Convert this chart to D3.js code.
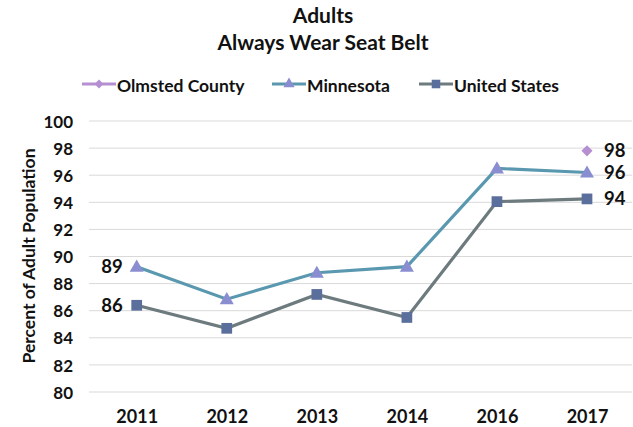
<!DOCTYPE html>
<html><head><meta charset="utf-8">
<script src="https://cdn.jsdelivr.net/npm/d3@7"></script>
<style>body{margin:0;background:#fff}svg{display:block;font-family:Lato,"Open Sans",sans-serif}</style>
</head><body><svg id="c" width="633" height="427"></svg>
<script>
const years = ["2011","2012","2013","2014","2016","2017"];
const olmsted = [null,null,null,null,null,97.8];
const minnesota = [89.25,86.85,88.8,89.25,96.5,96.2];
const unitedStates = [86.4,84.7,87.2,85.5,94.05,94.25];
const yTicks = [80,82,84,86,88,90,92,94,96,98,100];
const labels = [
  {series:"mn", i:0, text:"89", side:"left"},
  {series:"us", i:0, text:"86", side:"left"},
  {series:"ol", i:5, text:"98", side:"right"},
  {series:"mn", i:5, text:"96", side:"right"},
  {series:"us", i:5, text:"94", side:"right"}
];
const svg = d3.select("#c");
const x = d3.scalePoint().domain(years).range([136.7,587]);
const y = d3.scaleLinear().domain([80,100]).range([392,121]);
const colors = {ol:"#b58fd1", mnLine:"#5a98b0", mnMark:"#8a8ed0", usLine:"#6d7b7e", usMark:"#5b6f9c"};
const ink = "#111";

// title
svg.append("text").attr("x",323).attr("y",23).attr("text-anchor","middle").attr("font-weight","bold").attr("font-size",21).attr("fill",ink).text("Adults");
svg.append("text").attr("x",323).attr("y",50).attr("text-anchor","middle").attr("font-weight","bold").attr("font-size",21).attr("fill",ink).text("Always Wear Seat Belt");

// grid
svg.append("g").selectAll("line").data(yTicks).join("line")
  .attr("x1",89).attr("x2",632).attr("y1",d=>y(d)).attr("y2",d=>y(d))
  .attr("stroke","#d9d9d9").attr("stroke-width",1);

// y axis
const yAxis = svg.append("g").attr("transform","translate(73,0)")
  .call(d3.axisLeft(y).tickValues(yTicks).tickSize(0).tickPadding(0));
yAxis.select(".domain").remove();
yAxis.selectAll("text").attr("font-size",17).attr("font-weight","bold").attr("fill",ink).attr("font-family","Lato,sans-serif").attr("dy","0.36em");

// x axis
const xAxis = svg.append("g").attr("transform","translate(0,392)")
  .call(d3.axisBottom(x).tickSize(0).tickPadding(0));
xAxis.select(".domain").remove();
xAxis.selectAll("text").attr("font-size",18).attr("font-weight","bold").attr("fill",ink).attr("font-family","Lato,sans-serif").attr("dy",null).attr("y",31);

// y label
svg.append("text").attr("transform","translate(35,256) rotate(-90)").attr("text-anchor","middle")
  .attr("font-size",17.5).attr("font-weight","bold").attr("fill",ink).text("Percent of Adult Population");

const line = d3.line().defined(d=>d.v!=null).x(d=>x(d.year)).y(d=>y(d.v));
const mk = arr => years.map((yr,i)=>({year:yr,v:arr[i]}));
const dMN = mk(minnesota), dUS = mk(unitedStates), dOL = mk(olmsted);

svg.append("path").datum(dUS).attr("d",line).attr("fill","none").attr("stroke",colors.usLine).attr("stroke-width",3.2);
svg.append("path").datum(dMN).attr("d",line).attr("fill","none").attr("stroke",colors.mnLine).attr("stroke-width",3.2);

const tri = d3.symbol().type(d3.symbolTriangle).size(85);
const sq = d3.symbol().type(d3.symbolSquare).size(115);
const dia = d3.symbol().type(d3.symbolSquare).size(62);

svg.append("g").selectAll("path").data(dUS.filter(d=>d.v!=null)).join("path")
  .attr("d",sq).attr("transform",d=>`translate(${x(d.year)},${y(d.v)})`).attr("fill",colors.usMark);
svg.append("g").selectAll("path").data(dMN.filter(d=>d.v!=null)).join("path")
  .attr("d",tri).attr("transform",d=>`translate(${x(d.year)},${y(d.v)+1})`).attr("fill",colors.mnMark);
svg.append("g").selectAll("path").data(dOL.filter(d=>d.v!=null)).join("path")
  .attr("d",dia).attr("transform",d=>`translate(${x(d.year)},${y(d.v)}) rotate(45)`).attr("fill",colors.ol);

// data labels
const srcMap = {mn:minnesota, us:unitedStates, ol:olmsted};
svg.append("g").selectAll("text").data(labels).join("text")
  .attr("x",d=> d.side==="left" ? x(years[d.i])-14 : x(years[d.i])+17)
  .attr("y",d=> y(srcMap[d.series][d.i]) + 6.5)
  .attr("text-anchor",d=> d.side==="left" ? "end" : "start")
  .attr("font-size",18.5).attr("font-weight","bold").attr("fill",ink)
  .text(d=>d.text);

// legend
const legend = [
  {name:"Olmsted County", line:colors.ol, mark:colors.ol, sym:dia, rot:45, x0:82},
  {name:"Minnesota", line:colors.mnLine, mark:colors.mnMark, sym:tri, rot:0, x0:272},
  {name:"United States", line:colors.usLine, mark:colors.usMark, sym:sq, rot:0, x0:419}
];
const lg = svg.append("g").selectAll("g").data(legend).join("g").attr("transform",d=>`translate(${d.x0},84)`);
lg.append("line").attr("x1",0).attr("x2",34).attr("stroke",d=>d.line).attr("stroke-width",3.2);
lg.append("path").attr("d",d=>d.sym()).attr("transform",d=>`translate(17,0) scale(0.8) rotate(${d.rot})`).attr("fill",d=>d.mark);
lg.append("text").attr("x",35).attr("y",8).attr("font-size",17.5).attr("font-weight","bold").attr("fill",ink).text(d=>d.name);
</script></body></html>
